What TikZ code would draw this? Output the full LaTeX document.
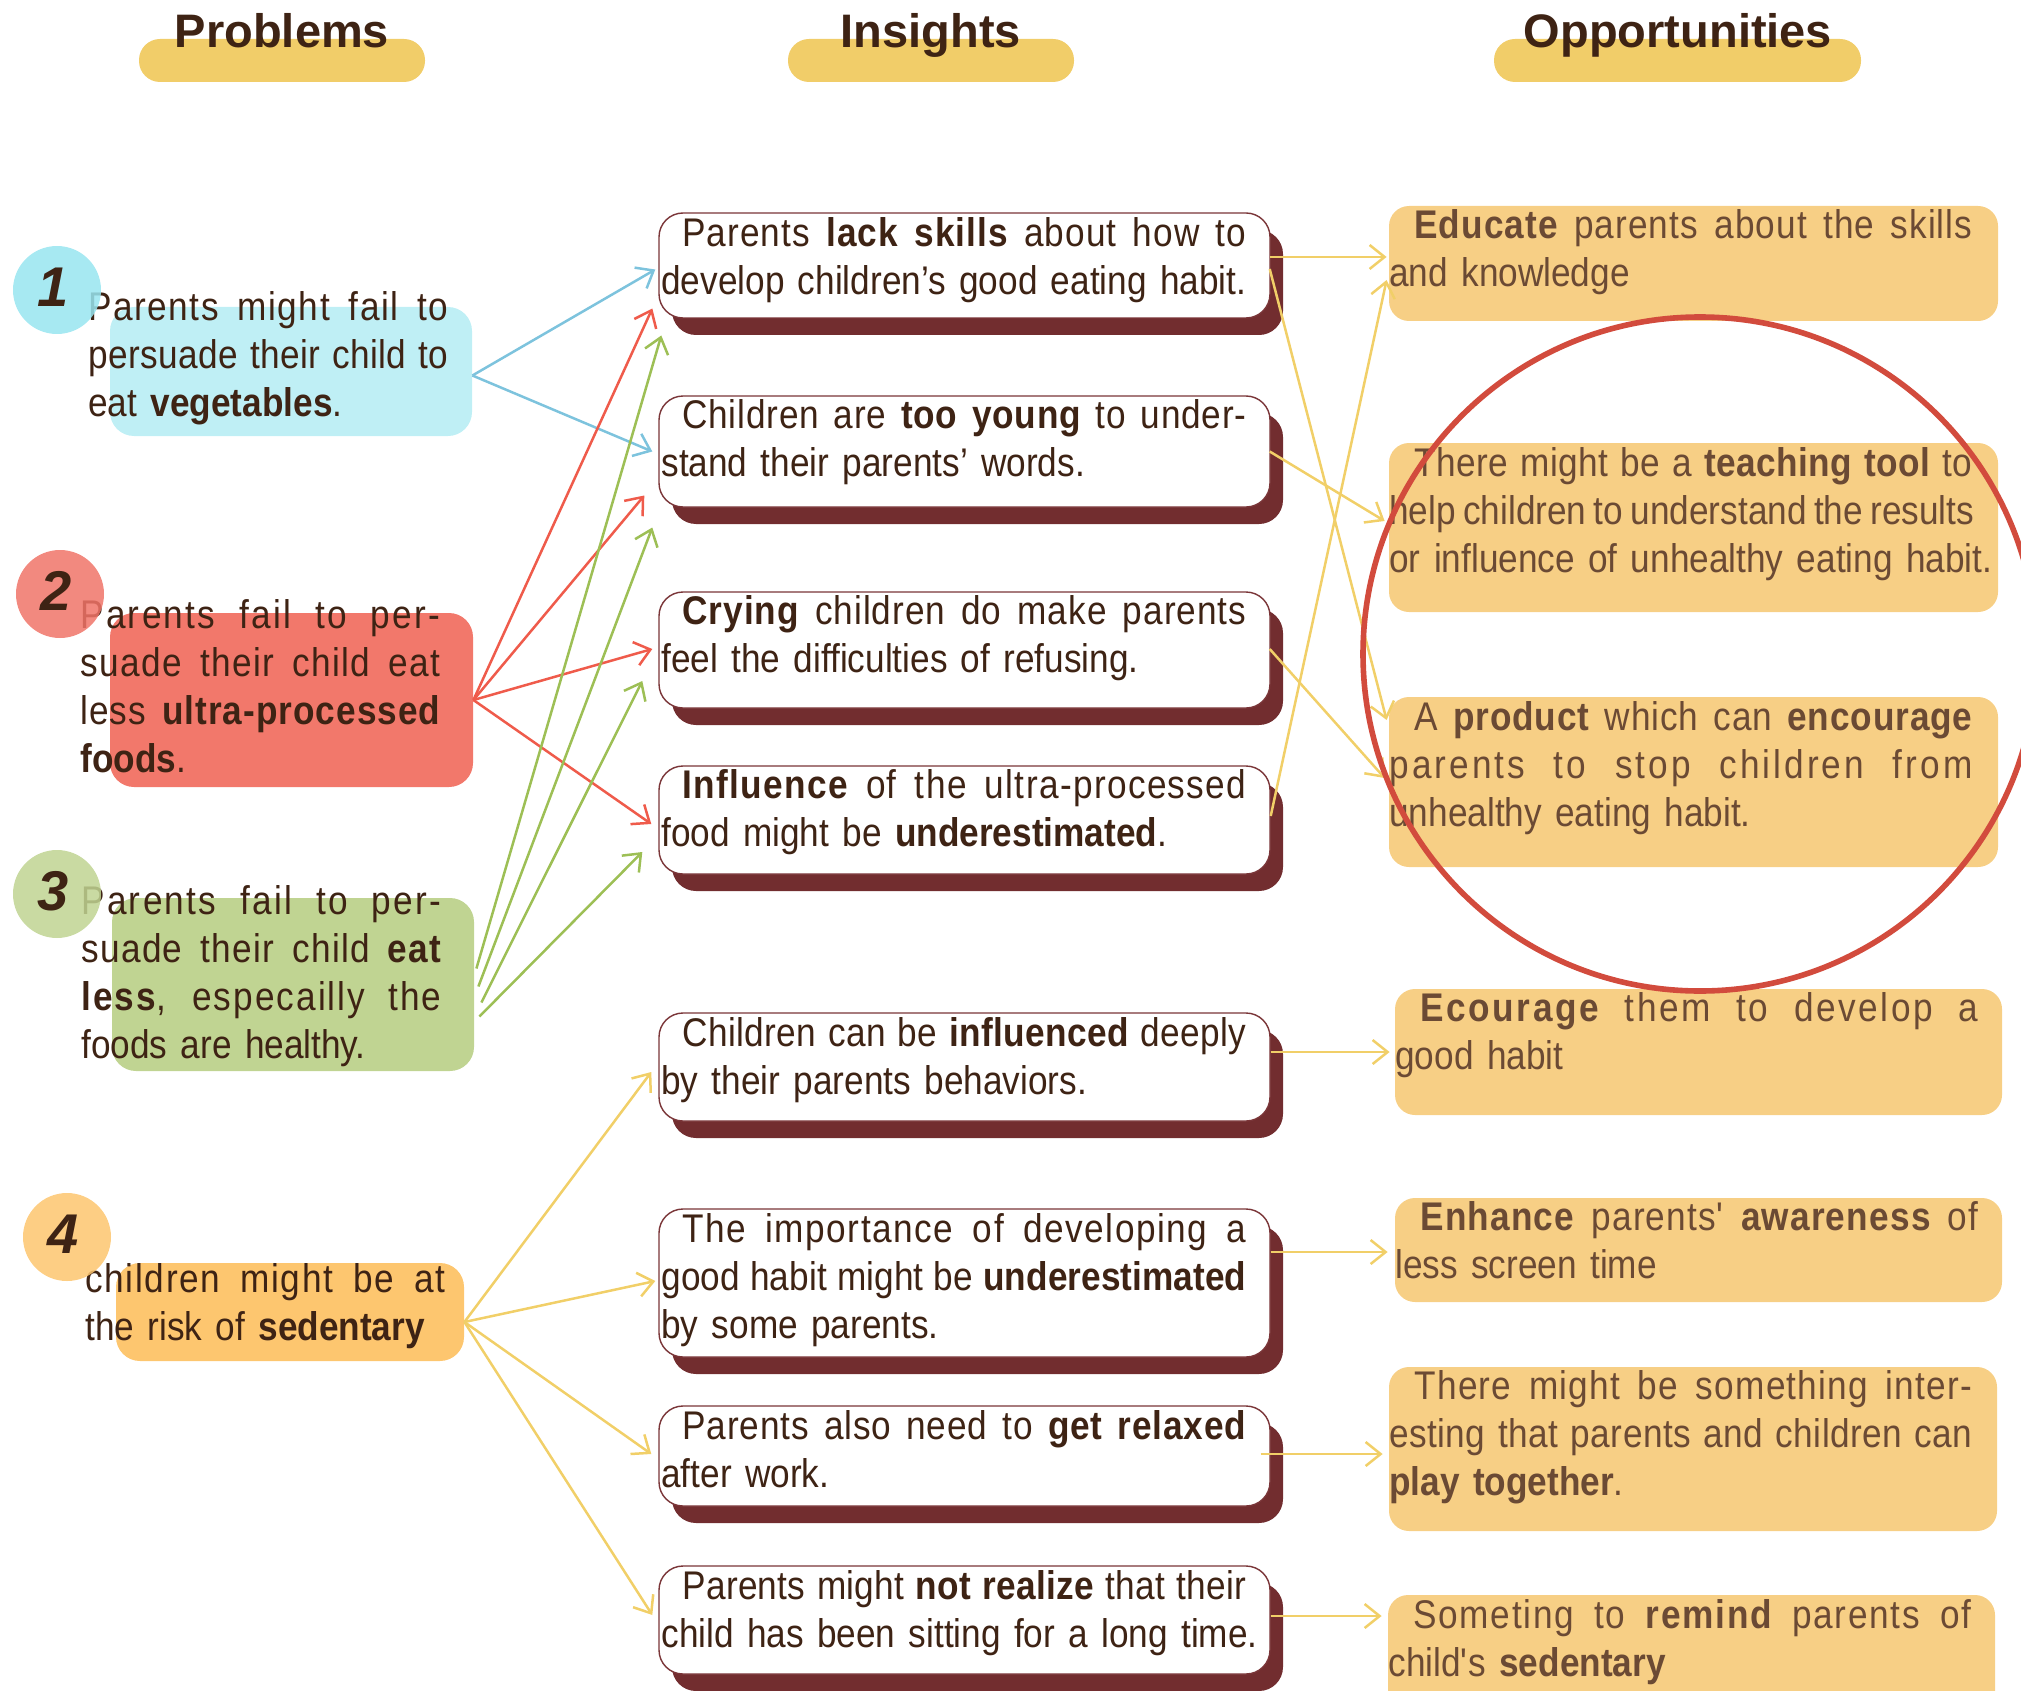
\documentclass[tikz,border=0pt]{standalone}
\usepackage{fontspec}
\setmainfont{Liberation Sans}[FakeStretch=0.88]
\newfontfamily\headfont{Liberation Sans}
\usetikzlibrary{arrows.meta,fit,calc}
\setlength\parindent{0pt}
\definecolor{ink}{HTML}{3E2314}
\definecolor{oink}{HTML}{6B4A34}
\definecolor{headfill}{HTML}{F1CD69}
\definecolor{cyanbox}{HTML}{BFEFF5}
\definecolor{cyancirc}{HTML}{98E5F0}
\definecolor{redbox}{HTML}{F2786B}
\definecolor{redcirc}{HTML}{F07468}
\definecolor{greenbox}{HTML}{C0D492}
\definecolor{orangebox}{HTML}{FDC66F}
\definecolor{oppfill}{HTML}{F7CF85}
\definecolor{shadowc}{HTML}{722D2F}
\definecolor{insborder}{HTML}{7A3538}
\definecolor{eblue}{HTML}{7DC3DD}
\definecolor{ered}{HTML}{EF5B4B}
\definecolor{egreen}{HTML}{9DBF55}
\definecolor{eyellow}{HTML}{F1CF68}
\definecolor{ringc}{HTML}{D24B3D}
% letter classes for inter-letter stretch in justified lines
\makeatletter
\@tempcnta=`a
\loop \XeTeXcharclass\@tempcnta=1 \ifnum\@tempcnta<`z \advance\@tempcnta\@ne \repeat
\@tempcnta=`A
\loop \XeTeXcharclass\@tempcnta=1 \ifnum\@tempcnta<`Z \advance\@tempcnta\@ne \repeat
\XeTeXcharclass`-=1
\XeTeXcharclass`,=1
\XeTeXcharclass`.=1
\makeatother
\XeTeXinterchartoks 1 1 = {\hskip 0pt plus 0.16fil\relax}
\newlength\LineW
\setlength\LineW{180pt}
\newcommand\JustL[1]{\hbox to \LineW{\XeTeXinterchartokenstate=1 \spaceskip=\fontdimen2\font plus 1fil minus 0.06em\relax #1}\par}
\newcommand\LastL[1]{\hbox to \LineW{#1\hss}\par}
\newcommand\InsInd{\hspace*{10.5pt}}
\newcommand\OppInd{\hspace*{12.5pt}}
\tikzset{
  pill/.style={fill=headfill, rounded corners=10.5pt, inner sep=0pt},
  headtext/.style={font=\headfont\bfseries\fontsize{23.5}{27}\selectfont, text=ink, inner sep=0pt, anchor=base},
  probbox/.style={rounded corners=12pt, inner sep=0pt},
  numcirc/.style={circle, inner sep=0pt, minimum size=44pt, fill opacity=0.85},
  numtext/.style={font=\headfont\bfseries\itshape\fontsize{28}{30}\selectfont, text=ink, inner sep=0pt},
  bodytext/.style={font=\fontsize{20}{24}\selectfont, text=ink, inner sep=0pt, anchor=base west},
  probtext/.style={bodytext, text width=180pt, execute at begin node={\setlength\LineW{180pt}}},
  instext/.style={bodytext, text width=292.5pt, execute at begin node={\setlength\LineW{292.5pt}}},
  opptext/.style={bodytext, text width=291.5pt, text=oink, execute at begin node={\setlength\LineW{291.5pt}}},
  shadowbox/.style={fill=shadowc, rounded corners=12pt, inner sep=0pt},
  insbox/.style={fill=white, draw=insborder, line width=0.7pt, rounded corners=12pt, inner sep=0pt},
  oppbox/.style={fill=oppfill, rounded corners=10pt, inner sep=0pt},
  conn/.style={line width=1.25pt, -{Straight Barb[length=7.5pt,width=12pt]}},
  ringstyle/.style={circle, draw=ringc, line width=2.8pt, inner sep=0pt, minimum size=337pt}
}
\begin{document}
\begin{tikzpicture}[x=0.5pt,y=-0.5pt]
\useasboundingbox (0,0) rectangle (2021,1690);
\clip (0,0) rectangle (2021,1690);
% headers
\node[pill, fit={(139,39) (425,82)}] (hP) {};
\node[pill, fit={(788,39) (1074,82)}] (hI) {};
\node[pill, fit={(1494,39) (1861,82)}] (hO) {};
\node[headtext] (hPt) at (282,48) {Problems};
\node[headtext] (hIt) at (931,48) {Insights};
\node[headtext] (hOt) at (1678,48) {Opportunities};
% problem boxes
\node[probbox, fill=cyanbox, fit={(110,307) (472,436)}] (P1) {};
\node[probbox, fill=redbox, fit={(110,613) (473,787)}] (P2) {};
\node[probbox, fill=greenbox, fit={(112,898) (474,1071)}] (P3) {};
\node[probbox, fill=orangebox, fit={(116,1263) (464,1361)}] (P4) {};
\node[probtext] (P1t) at (88,321) {\JustL{Parents might fail to}\JustL{persuade their child to}\LastL{eat \textbf{vegetables}.}};
\node[probtext] (P2t) at (80,628) {\JustL{Parents fail to per-}\JustL{suade their child eat}\JustL{less \textbf{ultra-processed}}\LastL{\textbf{foods}.}};
\node[probtext] (P3t) at (81,914) {\JustL{Parents fail to per-}\JustL{suade their child \textbf{eat}}\JustL{\textbf{less}, especailly the}\LastL{foods are healthy.}};
\node[probtext] (P4t) at (85,1292) {\JustL{children might be at}\LastL{the risk of \textbf{sedentary}}};
\node[numcirc, fill=cyancirc] (C1) at (57,290) {};
\node[numcirc, fill=redcirc] (C2) at (60,594) {};
\node[numcirc, fill=greenbox] (C3) at (57,894) {};
\node[numcirc, fill=orangebox] (C4) at (67,1237) {};
\node[numtext] (N1) at ($(C1)+(-4,-3)$) {1};
\node[numtext] (N2) at ($(C2)+(-4,-3)$) {2};
\node[numtext] (N3) at ($(C3)+(-4,-3)$) {3};
\node[numtext] (N4) at ($(C4)+(-4,-3)$) {4};
% insight boxes
\node[shadowbox, fit={(672,230) (1283,335)}] (S1) {};
\node[shadowbox, fit={(672,413) (1283,524)}] (S2) {};
\node[shadowbox, fit={(672,609) (1283,725)}] (S3) {};
\node[shadowbox, fit={(672,783) (1283,891)}] (S4) {};
\node[shadowbox, fit={(672,1030) (1283,1138)}] (S5) {};
\node[shadowbox, fit={(672,1226) (1283,1374)}] (S6) {};
\node[shadowbox, fit={(672,1423) (1283,1523)}] (S7) {};
\node[shadowbox, fit={(672,1583) (1283,1691)}] (S8) {};
\node[insbox, fit={(659,213) (1270,318)}] (I1) {};
\node[insbox, fit={(659,396) (1270,507)}] (I2) {};
\node[insbox, fit={(659,592) (1270,708)}] (I3) {};
\node[insbox, fit={(659,766) (1270,874)}] (I4) {};
\node[insbox, fit={(659,1013) (1270,1121)}] (I5) {};
\node[insbox, fit={(659,1209) (1270,1357)}] (I6) {};
\node[insbox, fit={(659,1406) (1270,1506)}] (I7) {};
\node[insbox, fit={(659,1566) (1270,1674)}] (I8) {};
\node[instext] (I1t) at (661,247) {\JustL{\InsInd Parents \textbf{lack skills} about how to}\LastL{develop children’s good eating habit.}};
\node[instext] (I2t) at (661,428) {\JustL{\InsInd Children are \textbf{too young} to under-}\LastL{stand their parents’ words.}};
\node[instext] (I3t) at (661,624) {\JustL{\InsInd\textbf{Crying} children do make parents}\LastL{feel the difficulties of refusing.}};
\node[instext] (I4t) at (661,798) {\JustL{\InsInd\textbf{Influence} of the ultra-processed}\LastL{food might be \textbf{underestimated}.}};
\node[instext] (I5t) at (661,1046) {\JustL{\InsInd Children can be \textbf{influenced} deeply}\LastL{by their parents behaviors.}};
\node[instext] (I6t) at (661,1242) {\JustL{\InsInd The importance of developing a}\JustL{good habit might be \textbf{underestimated}}\LastL{by some parents.}};
\node[instext] (I7t) at (661,1439) {\JustL{\InsInd Parents also need to \textbf{get relaxed}}\LastL{after work.}};
\node[instext] (I8t) at (661,1599) {\JustL{\InsInd Parents might \textbf{not realize} that their}\LastL{child has been sitting for a long time.}};
% opportunity boxes
\node[oppbox, fit={(1389,206) (1998,321)}] (O1) {};
\node[oppbox, fit={(1389,443) (1998,612)}] (O2) {};
\node[oppbox, fit={(1389,697) (1998,867)}] (O3) {};
\node[oppbox, fit={(1395,989) (2002,1115)}] (O4) {};
\node[oppbox, fit={(1395,1198) (2002,1302)}] (O5) {};
\node[oppbox, fit={(1389,1367) (1997,1531)}] (O6) {};
\node[oppbox, fit={(1388,1595) (1995,1720)}] (O7) {};
\node[opptext] (O1t) at (1389,239) {\JustL{\OppInd\textbf{Educate} parents about the skills}\LastL{and knowledge}};
\node[opptext] (O2t) at (1389,476) {\JustL{\OppInd There might be a \textbf{teaching tool} to}\JustL{help children to understand the results}\LastL{or influence of unhealthy eating habit.}};
\node[opptext] (O3t) at (1389,730) {\JustL{\OppInd A \textbf{product} which can \textbf{encourage}}\JustL{parents to stop children from}\LastL{unhealthy eating habit.}};
\node[opptext] (O4t) at (1395,1021) {\JustL{\OppInd\textbf{Ecourage} them to develop a}\LastL{good habit}};
\node[opptext] (O5t) at (1395,1230) {\JustL{\OppInd\textbf{Enhance} parents\textquotesingle{} \textbf{awareness} of}\LastL{less screen time}};
\node[opptext] (O6t) at (1389,1399) {\JustL{\OppInd There might be something inter-}\JustL{esting that parents and children can}\LastL{\textbf{play together}.}};
\node[opptext] (O7t) at (1388,1628) {\JustL{\OppInd Someting to \textbf{remind} parents of}\LastL{child\textquotesingle s \textbf{sedentary}}};
% problem -> insight connectors
\draw[conn, eblue] ($(P1.east)+(0,4)$) -- ($(I1.west)+(-3,4)$);
\draw[conn, eblue] ($(P1.east)+(0,4)$) -- ($(I2.west)+(-6,0)$);
\draw[conn, ered] ($(P2.east)+(0,0)$) -- ($(I1.west)+(-6,43)$);
\draw[conn, ered] ($(P2.east)+(0,0)$) -- ($(I2.west)+(-14,44)$);
\draw[conn, ered] ($(P2.east)+(0,0)$) -- ($(I3.west)+(-6,-1)$);
\draw[conn, ered] ($(P2.east)+(0,0)$) -- ($(I4.west)+(-7,4)$);
\draw[conn, egreen] ($(P3.east)+(2,-16)$) -- ($(I1.west)+(3,70)$);
\draw[conn, egreen] ($(P3.east)+(4,2)$) -- ($(I2.west)+(-6,76)$);
\draw[conn, egreen] ($(P3.east)+(7,18)$) -- ($(I3.west)+(-16,31)$);
\draw[conn, egreen] ($(P3.east)+(5,32)$) -- ($(I4.west)+(-16,32)$);
\draw[conn, eyellow] ($(P4.east)+(0,10)$) -- ($(I5.west)+(-7,5)$);
\draw[conn, eyellow] ($(P4.east)+(0,10)$) -- ($(I6.west)+(-3,-2)$);
\draw[conn, eyellow] ($(P4.east)+(0,10)$) -- ($(I7.west)+(-7,-2)$);
\draw[conn, eyellow] ($(P4.east)+(0,10)$) -- ($(I8.west)+(-6,-5)$);
% insight -> opportunity connectors
\draw[conn, eyellow] ($(I1.east)+(-1,-8.5)$) -- ($(O1.west)+(-2,-6.5)$);
\draw[conn, eyellow] ($(I1.east)+(-1,3.5)$) -- ($(O3.west)+(-2,-62)$);
\draw[conn, eyellow] ($(I2.east)+(-1,0)$) -- ($(O2.west)+(-4,-6.5)$);
\draw[conn, eyellow] ($(I3.east)+(-1,-1)$) -- ($(O3.west)+(-4,-4)$);
\draw[conn, eyellow] ($(I4.east)+(0,-4)$) -- ($(O1.west)+(-2,16.5)$);
\draw[conn, eyellow] ($(I5.east)+(0,-15)$) -- ($(O4.west)+(-5,0)$);
\draw[conn, eyellow] ($(I6.east)+(0,-31)$) -- ($(O5.west)+(-7,2)$);
\draw[conn, eyellow] ($(I7.east)+(-10,-2)$) -- ($(O6.west)+(-6,5)$);
\draw[conn, eyellow] ($(I8.east)+(0,-4)$) -- ($(O7.west)+(-6,-41.5)$);
% highlight ring
\node[ringstyle] (ring) at (1700,654) {};
\end{tikzpicture}
\end{document}
